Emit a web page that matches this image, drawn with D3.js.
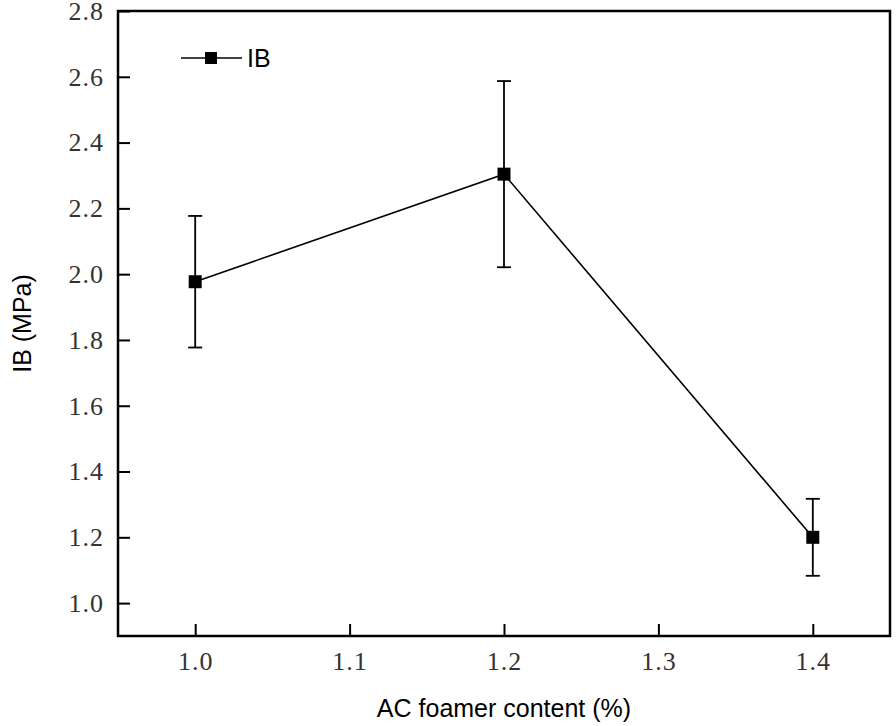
<!DOCTYPE html>
<html>
<head>
<meta charset="utf-8">
<script src="https://cdn.jsdelivr.net/npm/d3@7"></script>
<style>
  body { margin: 0; background: #fff; }
  svg { display: block; }
</style>
</head>
<body>
<svg id="chart" width="896" height="726"></svg>
<script>
// data
let contents = [1.0, 1.2, 1.4]
let ibValues = [1.977, 2.304, 1.200]
let ibErrors = [0.200, 0.283, 0.117]
let xTicks = [1.0, 1.1, 1.2, 1.3, 1.4]
let yTicks = [1.0, 1.2, 1.4, 1.6, 1.8, 2.0, 2.2, 2.4, 2.6, 2.8]

let svg = d3.select('#chart')
let margin = {left: 118, right: 6, top: 11, bottom: 90}
let width = 896 - margin.left - margin.right
let height = 726 - margin.top - margin.bottom

let x = d3.scaleLinear().domain([0.95, 1.45]).range([margin.left, margin.left + width])
let y = d3.scaleLinear().domain([0.9, 2.8]).range([margin.top + height, margin.top])

let tickFont = '"Liberation Serif", "DejaVu Serif", serif'
let sansFont = '"Liberation Sans", Arial, sans-serif'

// axes, ticks inward
svg.append('g')
    .attr('transform', `translate(0,${margin.top + height})`)
    .call(d3.axisBottom(x).tickValues(xTicks).tickFormat(d3.format('.1f')).tickSizeInner(-12).tickSizeOuter(0).tickPadding(16))
svg.append('g')
    .attr('transform', `translate(${margin.left},0)`)
    .call(d3.axisLeft(y).tickValues(yTicks).tickFormat(d3.format('.1f')).tickSizeInner(-12).tickSizeOuter(0).tickPadding(14))

svg.selectAll('.domain').remove()
svg.selectAll('.tick line').attr('stroke', '#000').attr('stroke-width', 2)
svg.selectAll('.tick text')
    .attr('fill', '#333')
    .style('font-family', tickFont)
    .style('font-size', '26px')
    .style('letter-spacing', '1px')

// frame
svg.append('rect')
    .attr('x', margin.left)
    .attr('y', margin.top)
    .attr('width', width)
    .attr('height', height)
    .attr('fill', 'none')
    .attr('stroke', '#000')
    .attr('stroke-width', 2.5)

// line
let line = d3.line()
    .x((d, i) => x(contents[i]))
    .y(d => y(d))
svg.append('path')
    .datum(ibValues)
    .attr('d', line)
    .attr('fill', 'none')
    .attr('stroke', '#000')
    .attr('stroke-width', 1.6)

// error bars
let errG = svg.append('g').attr('stroke', '#000').attr('stroke-width', 1.8)
contents.forEach((c, i) => {
    let lo = y(ibValues[i] - ibErrors[i])
    let hi = y(ibValues[i] + ibErrors[i])
    errG.append('line').attr('x1', x(c)).attr('x2', x(c)).attr('y1', lo).attr('y2', hi)
    errG.append('line').attr('x1', x(c) - 7).attr('x2', x(c) + 7).attr('y1', lo).attr('y2', lo)
    errG.append('line').attr('x1', x(c) - 7).attr('x2', x(c) + 7).attr('y1', hi).attr('y2', hi)
})

// markers
let ms = 13
svg.selectAll('rect.marker')
    .data(ibValues)
    .enter()
    .append('rect')
    .attr('class', 'marker')
    .attr('x', (d, i) => x(contents[i]) - ms / 2)
    .attr('y', d => y(d) - ms / 2)
    .attr('width', ms)
    .attr('height', ms)
    .attr('fill', '#000')

// legend
let lg = svg.append('g').attr('transform', 'translate(181,58)')
lg.append('line').attr('x1', 0).attr('x2', 61).attr('y1', 0).attr('y2', 0)
    .attr('stroke', '#000').attr('stroke-width', 1.6)
lg.append('rect').attr('x', 30 - 6).attr('y', -6).attr('width', 12).attr('height', 12).attr('fill', '#000')
lg.append('text').attr('x', 66).attr('y', 8.5)
    .text('IB')
    .style('font-family', sansFont)
    .style('font-size', '25px')
    .attr('fill', '#000')

// axis titles
svg.append('text')
    .attr('x', x(1.2))
    .attr('y', 717)
    .attr('text-anchor', 'middle')
    .text('AC foamer content (%)')
    .style('font-family', sansFont)
    .style('font-size', '25px')
    .attr('fill', '#000')

svg.append('text')
    .attr('transform', `translate(31,${y(1.85)}) rotate(-90)`)
    .attr('text-anchor', 'middle')
    .text('IB (MPa)')
    .style('font-family', sansFont)
    .style('font-size', '25px')
    .attr('fill', '#000')
</script>
</body>
</html>
